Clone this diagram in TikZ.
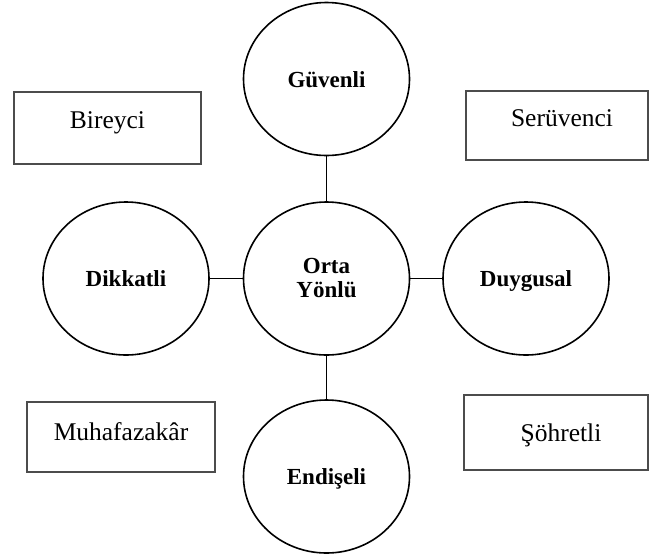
\documentclass[tikz,border=0pt]{standalone}
\usepackage{fontspec}
\setmainfont{Liberation Serif}
\usetikzlibrary{shapes.geometric}
\begin{document}
\begin{tikzpicture}[x=1pt,y=-1pt,
  trait/.style={ellipse, draw=black, line width=1.6pt, minimum width=166pt, minimum height=153pt, inner sep=0pt, font=\fontsize{23}{24}\selectfont\bfseries, align=center},
  single/.style={text height=16pt, text depth=0pt},
  tbox/.style={rectangle, draw=black!70, line width=1.6pt, inner sep=0pt, font=\fontsize{25.5}{27}\selectfont, text height=12pt, text depth=12pt},
  link/.style={draw=black, line width=1.6pt}]
\useasboundingbox (0,0) rectangle (650,558);
\node[trait, single] (guv) at (326.5,79) {Güvenli};
\node[trait] (orta) at (326.5,278.5) {Orta\\Yönlü};
\node[trait, single] (dik) at (126,278.5) {Dikkatli};
\node[trait, single] (duy) at (526,278.5) {Duygusal};
\node[trait, single] (end) at (326.5,476.5) {Endişeli};
\node[tbox, minimum width=187pt, minimum height=72pt] (bir) at (107.5,128) {Bireyci};
\node[tbox, minimum width=182pt, minimum height=69pt] (ser) at (557,125.5) {\hspace*{10pt}\raisebox{-1pt}{Serüvenci}};
\node[tbox, minimum width=188pt, minimum height=70pt] (muh) at (121,437) {\raisebox{-3.5pt}{Muhafazakâr}};
\node[tbox, minimum width=184pt, minimum height=75pt] (soh) at (556,432.5) {\hspace*{10pt}\raisebox{-9pt}{Şöhretli}};
\draw[link] (guv) -- (orta);
\draw[link] (orta) -- (end);
\draw[link] (dik) -- (orta);
\draw[link] (orta) -- (duy);
\end{tikzpicture}
\end{document}
